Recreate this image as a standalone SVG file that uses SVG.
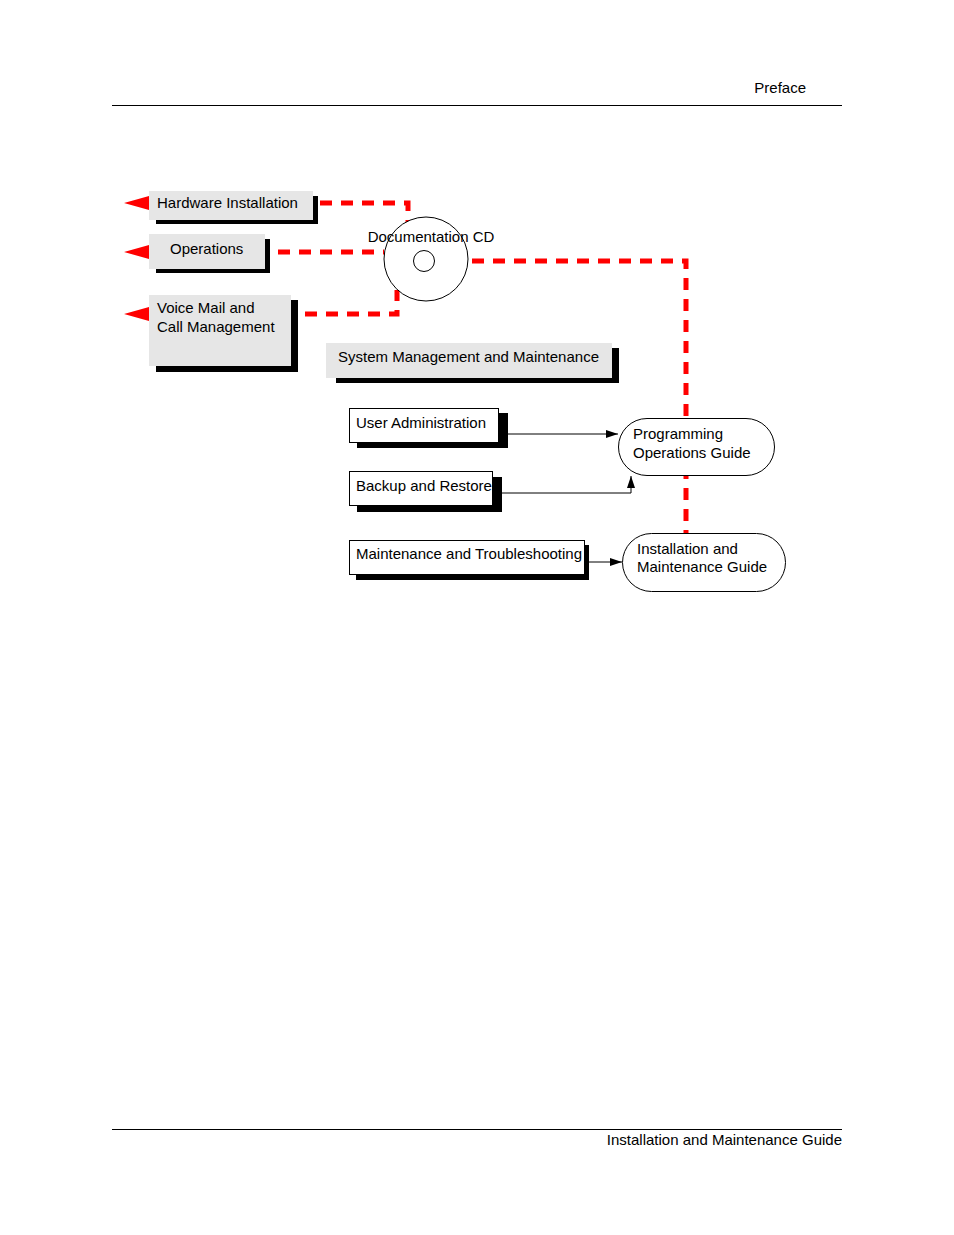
<svg xmlns="http://www.w3.org/2000/svg" width="954" height="1235" viewBox="0 0 954 1235">
<style>
text{font-family:"Liberation Sans",Arial,sans-serif;font-size:15px;fill:#000}
.g{fill:#e6e6e6}.s{fill:#000}.w{fill:#fff;stroke:#000;stroke-width:1}
.r{fill:none;stroke:#f00;stroke-width:5;stroke-dasharray:12 9}
.a{fill:none;stroke:#000;stroke-width:1}
.pill{fill:#fff;stroke:#000;stroke-width:1}
</style>
<defs><marker id="ah" markerWidth="12" markerHeight="8" refX="12" refY="4" orient="auto" markerUnits="userSpaceOnUse"><path d="M0,0L12,4L0,8z"/></marker></defs>
<text x="806" y="93" text-anchor="end">Preface</text>
<line x1="112" y1="105.5" x2="842" y2="105.5" stroke="#000"/>
<line x1="112" y1="1129.5" x2="842" y2="1129.5" stroke="#000"/>
<text x="842" y="1145" text-anchor="end">Installation and Maintenance Guide</text>
<g id="connectors">
<path class="r" d="M320,203H408V222"/>
<path class="r" d="M278,252H384"/>
<path class="r" d="M305,314H397V290"/>
<path class="r" d="M472,261H686V533"/>
<path d="M124,203L149,196V210z M124,252L149,245V259z M124,314L149,307V321z" fill="#f00"/>
<path class="a" d="M508,434H618" marker-end="url(#ah)"/>
<path class="a" d="M502,493H631V476" marker-end="url(#ah)"/>
<path class="a" d="M589,562H622" marker-end="url(#ah)"/>
</g>
<g id="cd"><circle cx="426" cy="259" r="42" fill="#fff" stroke="#000"/><circle cx="424" cy="261" r="10.5" fill="none" stroke="#000"/><text x="431" y="242" text-anchor="middle" font-size="14">Documentation CD</text></g>
<g id="hw"><rect class="s" x="156" y="196" width="162" height="28"/><rect class="g" x="149" y="191" width="164" height="29"/><text x="157" y="208">Hardware Installation</text></g>
<g id="ops"><rect class="s" x="156" y="239" width="114" height="34"/><rect class="g" x="149" y="234" width="116" height="35"/><text x="170" y="254">Operations</text></g>
<g id="vm"><rect class="s" x="156" y="300" width="142" height="72"/><rect class="g" x="149" y="295" width="142" height="71"/><text x="157" y="313">Voice Mail and</text><text x="157" y="332">Call Management</text></g>
<g id="smm"><rect class="s" x="336" y="348" width="283" height="35"/><rect class="g" x="326" y="343" width="286" height="35"/><text x="338" y="362">System Management and Maintenance</text></g>
<g id="ua"><rect class="s" x="357" y="413" width="151" height="35"/><rect class="w" x="349.5" y="408.5" width="149" height="34"/><text x="356" y="428">User Administration</text></g>
<g id="br"><rect class="s" x="357" y="477" width="145" height="35"/><rect class="w" x="349.5" y="471.5" width="143" height="34"/><text x="356" y="491">Backup and Restore</text></g>
<g id="mt"><rect class="s" x="356" y="545" width="233" height="35"/><rect class="w" x="349.5" y="540.5" width="235" height="34"/><text x="356" y="559">Maintenance and Troubleshooting</text></g>
<g id="pog"><rect class="pill" x="618.5" y="418.5" width="156" height="57" rx="28.5"/><text x="633" y="439">Programming</text><text x="633" y="458">Operations Guide</text></g>
<g id="img"><rect class="pill" x="622.5" y="533.5" width="163" height="58" rx="29"/><text x="637" y="554">Installation and</text><text x="637" y="572">Maintenance Guide</text></g>
</svg>
